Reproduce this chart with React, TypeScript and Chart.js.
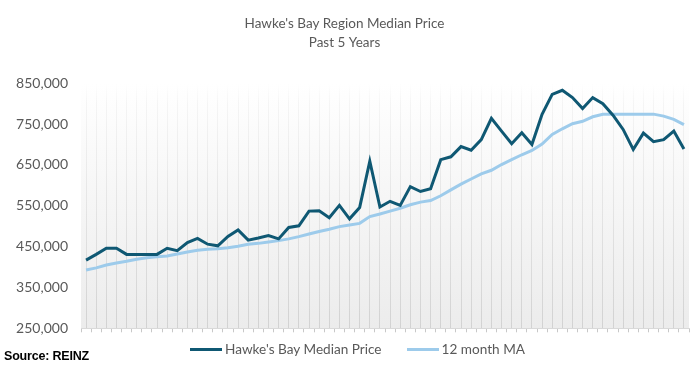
import React, { useEffect, useRef } from "react";
import { Chart, registerables } from "chart.js";

Chart.register(...registerables);

const months = [
  "Dec-17", "Jan-18", "Feb-18", "Mar-18", "Apr-18", "May-18", "Jun-18", "Jul-18", "Aug-18", "Sep-18", "Oct-18", "Nov-18",
  "Dec-18", "Jan-19", "Feb-19", "Mar-19", "Apr-19", "May-19", "Jun-19", "Jul-19", "Aug-19", "Sep-19", "Oct-19", "Nov-19",
  "Dec-19", "Jan-20", "Feb-20", "Mar-20", "Apr-20", "May-20", "Jun-20", "Jul-20", "Aug-20", "Sep-20", "Oct-20", "Nov-20",
  "Dec-20", "Jan-21", "Feb-21", "Mar-21", "Apr-21", "May-21", "Jun-21", "Jul-21", "Aug-21", "Sep-21", "Oct-21", "Nov-21",
  "Dec-21", "Jan-22", "Feb-22", "Mar-22", "Apr-22", "May-22", "Jun-22", "Jul-22", "Aug-22", "Sep-22", "Oct-22", "Nov-22",
];

const medianPrice = [
  417000, 431000, 446000, 446000, 431000, 431000, 431000, 431000, 446000, 440000, 460000, 470000,
  456000, 452000, 475000, 491000, 466000, 471000, 477000, 469000, 497000, 501000, 537000, 538000,
  521000, 551000, 518000, 546000, 659000, 547000, 561000, 551000, 597000, 585000, 592000, 663000,
  670000, 695000, 686000, 712000, 764000, 733000, 702000, 729000, 700000, 774000, 823000, 833000,
  815000, 788000, 815000, 800000, 772000, 737000, 688000, 728000, 707000, 712000, 733000, 689000,
];

const movingAverage = [
  392600, 398000, 405000, 410000, 414000, 419000, 423000, 425000, 427000, 432000, 437000, 441000,
  443500, 445000, 447500, 451000, 456000, 458000, 461500, 464700, 469000, 474500, 481000, 487000,
  492700, 499000, 503000, 507000, 523700, 530000, 537000, 544000, 552500, 559000, 563000, 574600,
  589000, 603000, 615600, 628000, 637000, 651000, 663000, 675000, 685500, 701000, 724600, 738600,
  751000, 757000, 768000, 774000, 774500, 774500, 774500, 774500, 774500, 769600, 761500, 749000,
];

const seriesNames = ["Hawke's Bay Median Price", "12 month MA"];
const seriesColors = ["#0f5873", "#9dcbeb"];
const titleLines = ["Hawke's Bay Region Median Price", "Past 5 Years"];
const yMin = 250000;
const yMax = 850000;
const yStep = 100000;
const sourceText = "Source: REINZ";

const FONT = "Lato";
const TEXT_COLOR = "#595959";

const bgPlugin = {
  id: "plotGradient",
  beforeDraw(chart: any) {
    const a = chart.chartArea;
    if (!a) return;
    const ctx = chart.ctx;
    const g = ctx.createLinearGradient(0, a.top, 0, a.bottom);
    g.addColorStop(0, "#ffffff");
    g.addColorStop(1, "#ececec");
    ctx.save();
    ctx.fillStyle = g;
    ctx.fillRect(a.left, a.top, a.right - a.left, a.bottom - a.top);
    ctx.restore();
  },
};

const gridColor = (c: any) => {
  const chart = c.chart;
  const a = chart && chart.chartArea;
  if (!a) return "rgba(0,0,0,0.08)";
  const g = chart.ctx.createLinearGradient(0, a.top, 0, a.bottom);
  g.addColorStop(0, "rgba(0,0,0,0)");
  g.addColorStop(0.08, "rgba(0,0,0,0.035)");
  g.addColorStop(1, "rgba(0,0,0,0.11)");
  return g;
};

export default function App() {
  const ref = useRef<HTMLCanvasElement | null>(null);

  useEffect(() => {
    if (!ref.current) return;
    const chart = new Chart(ref.current, {
      type: "line",
      data: {
        labels: months,
        datasets: [
          {
            label: seriesNames[0],
            data: medianPrice,
            borderColor: seriesColors[0],
            backgroundColor: seriesColors[0],
            borderWidth: 3,
            pointRadius: 0,
            tension: 0,
            order: 1,
          },
          {
            label: seriesNames[1],
            data: movingAverage,
            borderColor: seriesColors[1],
            backgroundColor: seriesColors[1],
            borderWidth: 3,
            pointRadius: 0,
            tension: 0,
            order: 2,
          },
        ],
      },
      options: {
        animation: false,
        responsive: false,
        layout: { padding: { left: 0, right: 1, top: 0, bottom: 41.7 } },
        plugins: {
          legend: { display: false },
          tooltip: { enabled: false },
          title: {
            display: true,
            text: titleLines,
            color: TEXT_COLOR,
            font: { family: FONT, size: 13.5, weight: "normal", lineHeight: "19px" },
            padding: { top: 14.5, bottom: 30.8 },
          },
        },
        scales: {
          x: {
            type: "category",
            offset: true,
            grid: { offset: false, drawTicks: false, color: gridColor, lineWidth: 1 },
            border: { display: true, color: "#d9d9d9" },
            ticks: { display: false },
          },
          xTicks: {
            type: "category",
            position: "bottom",
            offset: true,
            grid: { offset: true, drawOnChartArea: false, drawTicks: true, tickLength: 4, color: "#c8c8c8" },
            border: { display: false },
            ticks: { display: false },
          },
          y: {
            min: yMin,
            max: yMax,
            grid: { display: false, drawTicks: false },
            border: { display: false },
            ticks: {
              stepSize: yStep,
              padding: 13,
              color: TEXT_COLOR,
              font: { family: FONT, size: 14 },
              callback: (v: any) => Number(v).toLocaleString("en-US"),
            },
            afterFit: (s: any) => {
              s.width = 81;
            },
          },
        },
      } as any,
      plugins: [bgPlugin],
    });
    return () => chart.destroy();
  }, []);

  return (
    <div style={{ position: "fixed", left: 0, top: 0, width: 690, height: 374, background: "#fff" }}>
      <canvas ref={ref} width={690} height={374} style={{ position: "absolute", left: 0, top: 0, width: 690, height: 374 }} />
      <div
        style={{
          position: "absolute",
          left: 190,
          top: 340,
          height: 18,
          display: "flex",
          alignItems: "center",
          fontFamily: FONT,
          fontSize: 13.6,
          color: TEXT_COLOR,
          whiteSpace: "nowrap",
        }}
      >
        <span style={{ display: "inline-block", width: 32, height: 3, background: seriesColors[0], marginRight: 3 }} />
        <span>{seriesNames[0]}</span>
        <span style={{ display: "inline-block", width: 32, height: 3, background: seriesColors[1], marginLeft: 25, marginRight: 3 }} />
        <span>{seriesNames[1]}</span>
      </div>
      <div
        style={{
          position: "absolute",
          left: 4,
          top: 349,
          fontFamily: "Liberation Sans",
          fontWeight: "bold",
          fontSize: 12.5,
          color: "#000",
          whiteSpace: "nowrap",
          letterSpacing: -0.2,
        }}
      >
        {sourceText}
      </div>
    </div>
  );
}
